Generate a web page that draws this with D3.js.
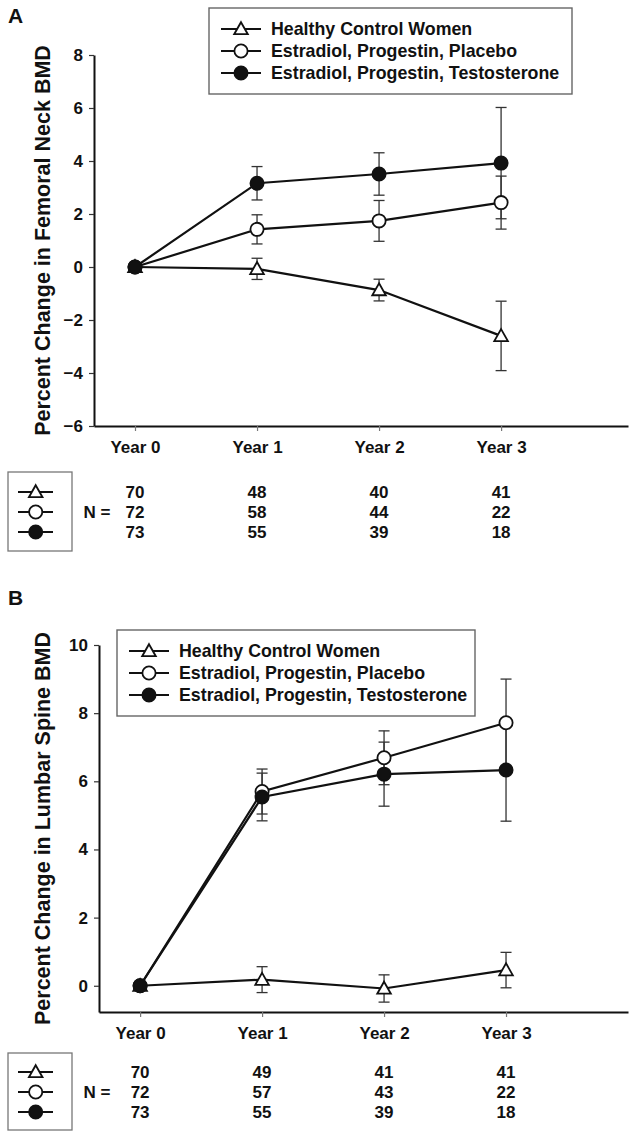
<!DOCTYPE html>
<html><head><meta charset="utf-8">
<script src="https://cdn.jsdelivr.net/npm/d3@7"></script>
<style>
body{margin:0;background:#fff;}
text{font-family:"Liberation Sans",Arial,sans-serif;font-weight:bold;fill:#111;}
</style></head>
<body><svg id="c" width="630" height="1139"></svg>
<script>
// ---- data ----
const years = ["Year 0","Year 1","Year 2","Year 3"];
const seriesNames = ["Healthy Control Women","Estradiol, Progestin, Placebo","Estradiol, Progestin, Testosterone"];
const seriesMarkers = ["triangle","open","filled"];

// Panel A: femoral neck
const femControl = [0, -0.07, -0.87, -2.6];
const femControlErr = [0, 0.40, 0.41, 1.31];
const femPlacebo = [0, 1.42, 1.74, 2.43];
const femPlaceboErr = [0, 0.55, 0.77, 1.0];
const femTesto = [0, 3.16, 3.51, 3.92];
const femTestoErr = [0, 0.63, 0.80, 2.1];
const femTicks = [-6,-4,-2,0,2,4,6,8];
const femN = [[70,48,40,41],[72,58,44,22],[73,55,39,18]];

// Panel B: lumbar spine
const lumControl = [0, 0.18, -0.08, 0.46];
const lumControlErr = [0, 0.38, 0.40, 0.52];
const lumPlacebo = [0, 5.70, 6.69, 7.72];
const lumPlaceboErr = [0, 0.66, 0.79, 1.28];
const lumTesto = [0, 5.54, 6.21, 6.33];
const lumTestoErr = [0, 0.70, 0.94, 1.50];
const lumTicks = [0,2,4,6,8,10];
const lumN = [[70,49,41,41],[72,57,43,22],[73,55,39,18]];

// ---- drawing ----
const svg = d3.select("#c");
const FS = 17;

function marker(g, type, cx, cy) {
  if (type === "triangle") {
    g.append("path")
      .attr("d", `M${cx},${cy-6.8}L${cx+6.8},${cy+5.2}L${cx-6.8},${cy+5.2}Z`)
      .attr("fill","#fff").attr("stroke","#111").attr("stroke-width",1.8);
  } else {
    g.append("circle").attr("cx",cx).attr("cy",cy).attr("r",6.6)
      .attr("fill", type==="filled" ? "#111" : "#fff")
      .attr("stroke","#111").attr("stroke-width",1.8);
  }
}

function panel(o) {
  const g = svg.append("g");
  const x = d3.scaleLinear().domain(o.xDomain).range(o.xRange);
  const y = d3.scaleLinear().domain(o.yDomain).range(o.yRange);

  // panel letter
  g.append("text").attr("x",8).attr("y",o.letterY).attr("font-size",21).text(o.letter);

  // axes
  const yAxis = d3.axisLeft(y).tickValues(o.ticks).tickSize(5).tickSizeOuter(0).tickPadding(6)
    .tickFormat(d3.format("d"));
  const ya = g.append("g").attr("transform",`translate(${o.xRange[0]},0)`).call(yAxis);
  ya.select(".domain").attr("stroke","#111").attr("stroke-width",2);
  ya.selectAll(".tick line").attr("stroke","#333").attr("stroke-width",1.2);
  ya.selectAll(".tick text").attr("font-size",FS).attr("font-family","Liberation Sans, Arial").attr("font-weight","bold").attr("fill","#111");

  const xAxis = d3.axisBottom(x).tickValues([0,1,2,3]).tickSize(5).tickSizeOuter(0).tickPadding(10)
    .tickFormat(i => years[i]);
  const xa = g.append("g").attr("transform",`translate(0,${o.yRange[0]})`).call(xAxis);
  xa.select(".domain").attr("stroke","#111").attr("stroke-width",2.2);
  xa.selectAll(".tick line").attr("stroke","#777").attr("stroke-width",1.2);
  xa.selectAll(".tick text").attr("font-size",FS).attr("font-family","Liberation Sans, Arial").attr("font-weight","bold").attr("fill","#111");

  // y title
  const midY = (o.yRange[0]+o.yRange[1])/2;
  g.append("text").attr("transform",`translate(42,${midY}) rotate(-90)`)
    .attr("text-anchor","middle").attr("dy","0.35em").attr("font-size",21.5).text(o.title);

  // series
  const series = o.series;
  // error bars
  series.forEach(s => {
    s.vals.forEach((v,i) => {
      const e = s.errs[i];
      if (!e) return;
      const cx = x(i);
      g.append("line").attr("x1",cx).attr("x2",cx).attr("y1",y(v+e)).attr("y2",y(v-e))
        .attr("stroke","#333").attr("stroke-width",1.3);
      [v+e, v-e].forEach(t => g.append("line").attr("x1",cx-5.5).attr("x2",cx+5.5)
        .attr("y1",y(t)).attr("y2",y(t)).attr("stroke","#333").attr("stroke-width",1.3));
    });
  });
  // lines
  const line = d3.line().x((d,i)=>x(i)).y(d=>y(d));
  series.forEach(s => {
    g.append("path").attr("d",line(s.vals)).attr("fill","none")
      .attr("stroke","#111").attr("stroke-width",2.2);
  });
  // markers
  series.forEach(s => s.vals.forEach((v,i) => marker(g, s.marker, x(i), y(v))));

  // legend
  const L = o.legend;
  g.append("rect").attr("x",L.x).attr("y",L.y).attr("width",L.w).attr("height",L.h)
    .attr("fill","#fff").attr("stroke","#666").attr("stroke-width",1.4);
  seriesNames.forEach((name,k) => {
    const cy = L.rows[k];
    g.append("line").attr("x1",L.x+12).attr("x2",L.x+52).attr("y1",cy).attr("y2",cy)
      .attr("stroke","#111").attr("stroke-width",2.2);
    marker(g, seriesMarkers[k], L.x+32, cy);
    g.append("text").attr("x",L.x+62).attr("y",cy).attr("dy","0.36em").attr("font-size",17.8).text(name);
  });

  // N table
  const T = o.table;
  g.append("rect").attr("x",8).attr("y",T.y).attr("width",64).attr("height",T.h)
    .attr("fill","#fff").attr("stroke","#777").attr("stroke-width",1.3);
  o.N.forEach((row,k) => {
    const cy = T.rows[k];
    g.append("line").attr("x1",18).attr("x2",53).attr("y1",cy).attr("y2",cy)
      .attr("stroke","#111").attr("stroke-width",2.2);
    marker(g, seriesMarkers[k], 35.7, cy);
    row.forEach((n,i) => g.append("text").attr("x",x(i)).attr("y",cy).attr("dy","0.36em")
      .attr("text-anchor","middle").attr("font-size",FS).text(n));
  });
  g.append("text").attr("x",97).attr("y",T.rows[1]).attr("dy","0.36em")
    .attr("text-anchor","middle").attr("font-size",FS).text("N =");
}

panel({
  letter:"A", letterY:23,
  xDomain:[-0.336, 4.04], xRange:[94, 628],
  yDomain:[-6, 8], yRange:[426, 55],
  ticks: femTicks,
  title:"Percent Change in Femoral Neck BMD",
  series:[
    {vals:femControl, errs:femControlErr, marker:"triangle"},
    {vals:femPlacebo, errs:femPlaceboErr, marker:"open"},
    {vals:femTesto, errs:femTestoErr, marker:"filled"}
  ],
  legend:{x:209, y:8, w:363, h:86, rows:[29,51,73]},
  table:{y:472, h:79, rows:[492,512,532]},
  N: femN
});

panel({
  letter:"B", letterY:605,
  xDomain:[-0.337, 4.0], xRange:[99, 628],
  yDomain:[-0.77, 10], yRange:[1012, 645],
  ticks: lumTicks,
  title:"Percent Change in Lumbar Spine BMD",
  series:[
    {vals:lumControl, errs:lumControlErr, marker:"triangle"},
    {vals:lumPlacebo, errs:lumPlaceboErr, marker:"open"},
    {vals:lumTesto, errs:lumTestoErr, marker:"filled"}
  ],
  legend:{x:117, y:630, w:358, h:86, rows:[651,673,695]},
  table:{y:1053, h:77, rows:[1072,1092,1112]},
  N: lumN
});
</script></body></html>
